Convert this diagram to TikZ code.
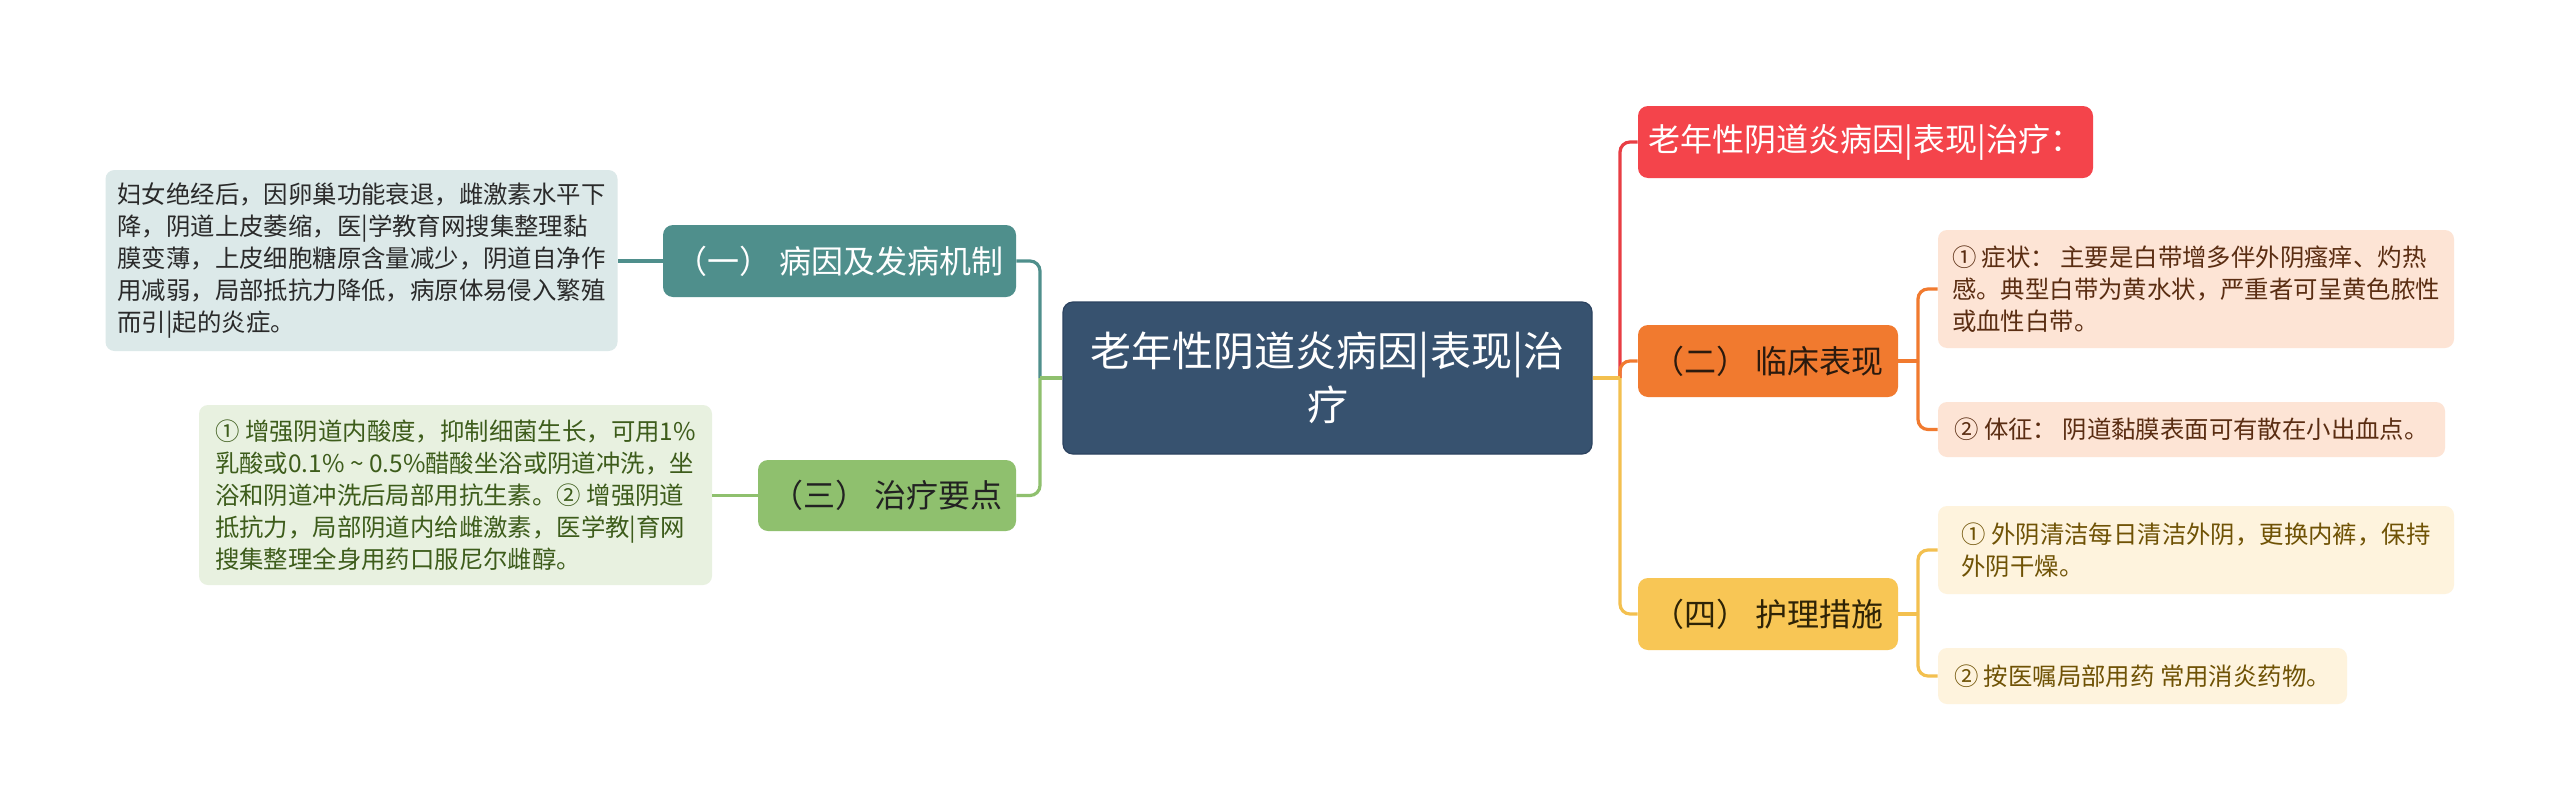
\documentclass[tikz,border=0pt]{standalone}
\usepackage{fontspec}
\setmainfont{Noto Sans CJK SC}
\definecolor{cA}{HTML}{DCE9E9}
\definecolor{ctA}{HTML}{2A2A2A}
\definecolor{cteal}{HTML}{4F8F8C}
\definecolor{cC}{HTML}{E8F1E0}
\definecolor{ctC}{HTML}{3D5C1B}
\definecolor{cgreen}{HTML}{8FC06E}
\definecolor{ctdark}{HTML}{222222}
\definecolor{cmain}{HTML}{37526F}
\definecolor{cmainb}{HTML}{2C4360}
\definecolor{cred}{HTML}{F4444B}
\definecolor{credl}{HTML}{E83E44}
\definecolor{corange}{HTML}{F17A2F}
\definecolor{ctO}{HTML}{2B1A0E}
\definecolor{cOB}{HTML}{FDE4D5}
\definecolor{ctOB}{HTML}{5A2D12}
\definecolor{cyellow}{HTML}{F8C655}
\definecolor{cyellowl}{HTML}{F3C04F}
\definecolor{ctY}{HTML}{2E2306}
\definecolor{cYB}{HTML}{FEF3DD}
\definecolor{ctYB}{HTML}{6F5205}
\begin{document}
\begin{tikzpicture}[x=0.5pt,y=-0.5pt,
  body/.style={font=\fontsize{12.2}{16}\selectfont, align=left, inner xsep=6pt, inner ysep=3pt, rounded corners=4.5pt},
  lvl/.style={font=\fontsize{16}{20}\selectfont, align=center, inner sep=2pt, rounded corners=5pt, minimum height=36pt},
  conn/.style={line width=1.6pt, rounded corners=5pt}]
\useasboundingbox[fill=white] (0,0) rectangle (2560,809);

% central node
\node[fill=cmain, draw=cmainb, line width=0.6pt, rounded corners=5pt, text=white,
  font=\fontsize{20.5}{27}\selectfont, align=center,
  minimum width=264.5pt, minimum height=76pt] (center) at (1327.5,378)
  {老年性阴道炎病因|表现|治\\疗};

% left branches
\node[lvl, fill=cteal, text=white, minimum width=176.5pt] (n1) at (839.5,261) {（一） 病因及发病机制};
\node[lvl, fill=cgreen, text=ctdark, minimum width=129pt, minimum height=35.5pt] (n3) at (887,495.5) {（三） 治疗要点};

\node[body, fill=cA, text=ctA, minimum width=255.5pt, minimum height=90.5pt] (A) at (361.5,260.5)
  {妇女绝经后，因卵巢功能衰退，雌激素水平下\\降，阴道上皮萎缩，医|学教育网搜集整理黏\\膜变薄，上皮细胞糖原含量减少，阴道自净作\\用减弱，局部抵抗力降低，病原体易侵入繁殖\\而引|起的炎症。};
\node[body, fill=cC, text=ctC, minimum width=256.5pt, minimum height=90pt] (C) at (455.5,495)
  {① 增强阴道内酸度，抑制细菌生长，可用1\%\\乳酸或0.1\% \textasciitilde{} 0.5\%醋酸坐浴或阴道冲洗，坐\\浴和阴道冲洗后局部用抗生素。② 增强阴道\\抵抗力，局部阴道内给雌激素，医学教|育网\\搜集整理全身用药口服尼尔雌醇。};

% right branches
\node[lvl, fill=cred, text=white, minimum width=227.5pt] (red) at (1865.5,142) {老年性阴道炎病因|表现|治疗：};
\node[lvl, fill=corange, text=ctO, minimum width=130pt] (n2) at (1768,361) {（二） 临床表现};
\node[lvl, fill=cyellow, text=ctY, minimum width=130pt] (n4) at (1768,614) {（四） 护理措施};

\node[body, fill=cOB, text=ctOB, minimum width=258pt, minimum height=59pt] (OB1) at (2196,289)
  {① 症状： 主要是白带增多伴外阴瘙痒、灼热\\感。典型白带为黄水状，严重者可呈黄色脓性\\或血性白带。};
\node[body, fill=cOB, text=ctOB, minimum width=253.5pt, minimum height=27.5pt] (OB2) at (2191.5,429.5)
  {② 体征： 阴道黏膜表面可有散在小出血点。};
\node[body, fill=cYB, text=ctYB, minimum width=258pt, minimum height=44pt] (YB1) at (2196,550)
  {① 外阴清洁每日清洁外阴，更换内裤，保持\\外阴干燥。};
\node[body, fill=cYB, text=ctYB, minimum width=204.5pt, minimum height=28pt] (YB2) at (2142.5,676)
  {② 按医嘱局部用药 常用消炎药物。};

% junctions
\coordinate (JL) at (1040,378);
\coordinate (JR) at (1620,378);
\coordinate (J2) at (1918,361);
\coordinate (J4) at (1918,614);

% left connectors
\draw[conn, cteal] (JL) |- (n1.east);
\draw[conn, cgreen] (JL) |- (n3.east);
\draw[conn, cgreen] (center.west) -- (JL);
\draw[conn, cteal] (n1.west) -- (A.east |- n1.west);
\draw[conn, cgreen] (n3.west) -- (C.east |- n3.west);

% right connectors
\draw[conn, credl] (JR) |- (red.west);
\draw[conn, corange] (JR) |- (n2.west);
\draw[conn, cyellowl] (JR) |- (n4.west);
\draw[conn, cyellowl] (center.east) -- (JR);

\draw[conn, corange] (n2.east) -- (J2);
\draw[conn, corange] (J2) |- (OB1.west);
\draw[conn, corange] (J2) |- (OB2.west);
\draw[conn, cyellowl] (n4.east) -- (J4);
\draw[conn, cyellowl] (J4) |- (YB1.west);
\draw[conn, cyellowl] (J4) |- (YB2.west);
\end{tikzpicture}
\end{document}
